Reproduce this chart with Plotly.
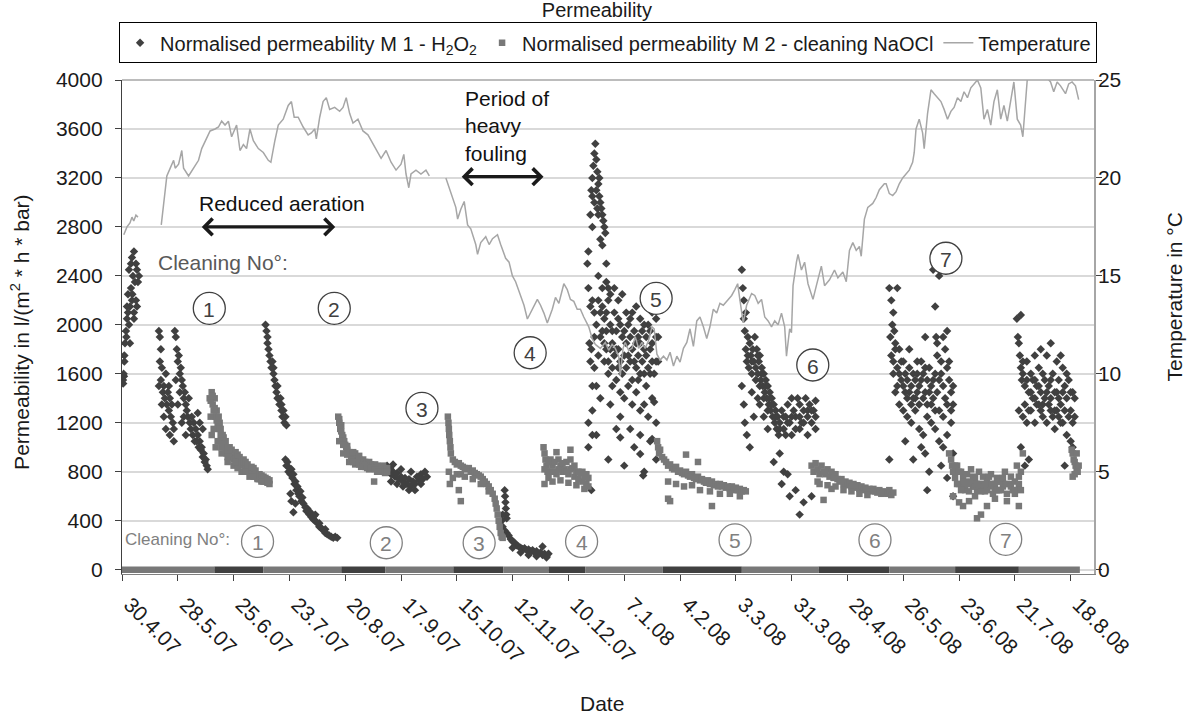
import pandas as pd
import plotly.graph_objects as go

# ---------------- DATA ----------------
START_DATE = "2007-04-30"          # day 0 of the record

tick_days = [0, 28, 56, 84, 112, 140, 168, 196, 224, 252, 280, 308, 336, 364, 392, 420, 448, 476]
tick_labels = ["30.4.07", "28.5.07", "25.6.07", "23.7.07", "20.8.07", "17.9.07", "15.10.07",
               "12.11.07", "10.12.07", "7.1.08", "4.2.08", "3.3.08", "31.3.08", "28.4.08",
               "26.5.08", "23.6.08", "21.7.08", "18.8.08"]

# Normalised permeability M1 (H2O2) : (day, l/(m2*h*bar))
m1_cycle_a = [(0.5,1550),(0.8,1600),(1.2,1750),(1.5,1850),(2,1950),(2.5,2050),(2.2,1900),(3,2100),(3.5,2000),
              (3,2250),(4,2150),(4.5,2300),(5,2200),(5.5,2400),(6,2100),(6.5,2350),(5,2550),(6,2600),(7,2500),
              (7.5,2450),(8,2350),(4.5,2500),(7,2200),(8.5,2400),(3.5,2450),(6,2050),(7.5,2150),(2.5,2150),
              (1.2,1700),(4,1850),(5.2,2250),(0.6,1520),(1,1580)]
m1_cycle_b = [(18.5,1950),(19,1900),(19.5,1800),(19,1700),(20,1650),(18.5,1500),(19.5,1550),(20.5,1450),(21,1500),
              (21.5,1400),(22,1600),(22.5,1350),(23,1450),(23.5,1300),(24,1400),(24.5,1250),(25,1350),(25.5,1200),
              (21,1250),(22,1150),(26,1150),(23.5,1500),(26.5,1950),(27,1900),(27.5,1800),(28,1700),(28.5,1750),
              (29,1600),(29.5,1650),(30,1550),(30.5,1500),(31,1400),(31.5,1450),(32,1350),(32.5,1300),(33,1250),
              (33.5,1400),(34,1200),(34.5,1150),(35,1250),(35.5,1100),(36,1200),(36.5,1050),(29,1450),(31,1250),
              (32,1100),(28,1350),(30,1200),(27,1550),(37,1150),(37.5,1050),(38,1100),(38.5,1000),(39,1050),
              (39.5,980),(40,1000),(40.5,920),(41,950),(41.5,880),(42,900),(42.5,850),(43,820),(39,1200),(38,1280),
              (40.5,1150),(20,1350),(24,1100),(26,1050)]
m1_cycle_c = [(72,2000),(72.5,1950),(73,1900),(73.5,1800),(74,1750),(74.5,1700),(75,1650),(75.5,1700),(76,1600),
              (76.5,1550),(77,1500),(77.5,1450),(78,1500),(78.5,1400),(79,1350),(79.5,1400),(80,1300),(80.5,1250),
              (81,1300),(81.5,1200),(82,1250),(82.5,1180),(73,1850),(76,1650),(78,1400),(80,1350),
              (82,900),(82.5,850),(83,880),(83.5,800),(84,830),(84.5,780),(85,820),(85.5,750),(86,780),(86.5,700),
              (87,720),(87.5,650),(88,680),(88.5,620),(89,600),(89.5,640),(90,560),(90.5,590),(91,540),(92,510),
              (92.5,480),(93,500),(94,450),(94.5,470),(95,430),(96,410),(96.5,440),(97,400),(98,380),(99,350),
              (100,340),(101,320),(102,300),(103,290),(104,280),(105,270),(106,260),(107,270),(108,260),
              (84.5,620),(85,560),(86,470),(87,540),(97,450),(99,380),(102,330)]
m1_cycle_d = [(133,850),(134,800),(134.5,830),(135,780),(136,800),(137,760),(138,790),(139,740),(140,760),
              (141,720),(142,750),(143,700),(144,740),(145,680),(146,720),(147,700),(148,760),(149,730),(150,780),
              (151,740),(152,800),(153,760),(135,720),(138,700),(141,680),(144,650),(147,650),(150,700),(136,860),
              (140,820),(145,800)]
m1_cycle_e = [(192,650),(192.2,600),(192.4,550),(192.6,500),(192.8,450),(193,420),(191,350),(192,320),(193,300),
              (194,280),(195,250),(196,230),(197,220),(198,200),(199,190),(200,180),(201,170),(202,175),(203,160),
              (204,165),(205,150),(206,160),(207,140),(208,150),(209,130),(210,140),(211,120),(212,130),(213,110),
              (214,130),(211,190),(196,180),(200,140),(204,120),(208,110),(213,100),(190.5,400),(191,450)]
m1_cycle_f = [(233.5,2500),(234,2600),(235,2900),(235.5,3100),(236,3200),(236.5,3300),(237,3400),(237.5,3480),
              (238,3350),(238.5,3250),(239,3150),(239.5,3050),(240,3000),(240.5,2950),(241,2900),(241.5,2850),
              (242,2800),(242.5,2750),(236,2800),(237,3000),(238,3100),(239,2900),(240,2700),(241,2650),(243,2500),
              (244,2300),(236,3050),(238.5,2950),(239.5,3200),
              (234,2300),(235,2150),(234.5,1850),(235,1700),(236,2200),(237,2100),(238,2000),(239,2200),(240,1900),
              (241,2150),(242,2050),(243,1950),(244,2200),(245,2000),(246,1850),(247,2100),(248,1950),(249,1800),
              (250,2000),(251,1900),(252,1750),(253,1850),(254,2000),(255,1700),(256,1800),(257,1950),(258,1650),
              (259,1750),(260,1850),(261,1700),(262,1600),(263,1900),(264,2000),(265,1800),(266,2100),(267,2200),
              (268,1900),(269,1700),(242,1700),(244,1600),(246,1500),(248,1550),(250,1450),(252,1400),(254,1500),
              (256,1350),(258,1450),(260,1300),(262,1350),(264,1250),(266,1400),(268,1200),(238,1500),(240,1400),
              (245,1350),(250,1250),(255,1150),(260,1100),(265,1050),(268,900),(234,1200),(234,1000),(238,1100),
              (248,1150),(257,1000),(262,800),(252,850),(244,900),(236,1300),(235.5,1800),(237,1900),(243,2350),
              (245,2250),(247,2300),(249,2200),(251,2250),(256,2100),(258,2150),(260,2050),(262,2000),(266,1850),
              (268,1700),(236,1100),(235.5,650),(250,1080),(260,945),(261.5,770),(266,1067),(267,1370),
              (241,1950),(243,1800),(246,1950),(249,1650),(253,1650),(255,1900),(259,1550),(263,1500),(265,1600),
              (239,2400),(241,2300),(243,2100),(245,1800),(247,1750),(249,2050),(251,1600),(253,2100),(255,2050),
              (257,1700),(259,1900),(261,1950),(263,1750),(265,1950),(267,1600),(269,1900),(240,2100),(242,1850),
              (244,1700),(246,1650),(248,1800),(250,1700),(252,1950),(254,1750),(256,1550),(258,1850),(260,1600),
              (262,1800),(264,1650),(266,1700),(268,2050),(239,1750),(237,1650),(236,1500)]
m1_cycle_g = [(311,2450),(311.5,2300),(312,2200),(312,2050),(312.5,1950),(313,2100),(313,1800),(313.5,1700),
              (314,1900),(314.5,1650),(315,1850),(315.5,1750),(316,1600),(316.5,1800),(317,1700),(317.5,1900),
              (318,1650),(318.5,1800),(319,1600),(319.5,1700),(320,1750),(320.5,1550),(321,1650),(321.5,1500),
              (322,1600),(322.5,1450),(323,1550),(323.5,1400),(324,1500),(324.5,1350),(325,1450),(325.5,1300),
              (326,1400),(326.5,1250),(327,1350),(327.5,1200),(328,1300),(328.5,1150),(329,1250),(329.5,1100),
              (330,1200),(331,1300),(332,1150),(333,1250),(334,1350),(335,1200),(336,1400),(337,1300),(338,1250),
              (339,1400),(340,1350),(341,1200),(342,1300),(343,1400),(344,1250),(345,1350),(346,1200),(347,1300),
              (348,1150),(333,1100),(336,1100),(340,1150),(344,1100),(348,1380),(312,1350),(312.5,1200),
              (313.5,1100),(315,1000),(317,1250),(320,1350),(322,1250),(324,1150),(330,950),(327,880),(331,700),
              (332,800),(334,780),(335,600),(338,650),(340,450),(342,550),(346,600),(311,1500),(316,1450),
              (319,1400),(318,1550),(320,1500),(322,1400),(324,1300),(326,1350),(328,1250),(330,1150),(332,1250),
              (334,1200),(336,1250),(338,1150),(340,1250),(342,1200),(344,1300),(346,1300),(348,1250),(314,1750),
              (316,1700),(319,1750),(321,1600),(323,1500),(325,1400)]
m1_cycle_h = [(385,2300),(389,2300),(386,2200),(387,2100),(386.5,2000),(387.5,1950),(388,1850),(385.5,1900),
              (386,1750),(387,1700),(388,1800),(389,1650),(390,1600),(391,1700),(392,1500),(393,1600),(394,1550),
              (395,1450),(396,1500),(397,1400),(398,1550),(399,1600),(400,1500),(401,1700),(402,1600),(403,1450),
              (404,1550),(405,1650),(406,1500),(407,1400),(408,1600),(409,1750),(410,1550),(411,1700),(412,1500),
              (413,1800),(414,1650),(415,1550),(416,1450),(417,1350),(407,2450),(410,2400),(408,2150),(408.5,1900),
              (409,1850),(388,1450),(390,1350),(392,1300),(394,1250),(396,1200),(398,1300),(400,1150),(402,1100),
              (404,1250),(406,1200),(408,1150),(410,1050),(412,1000),(414,1100),(416,1200),(417,950),(405,800),
              (403,950),(404,650),(411,850),(414,750),(417,600),(393,1050),(397,900),(401,1000),(385,900),
              (399,1700),(395,1800),(403,1900),(412,1900),(414,1950),(387,1600),(389,1500),(391,1550),(393,1450),
              (395,1650),(397,1600),(399,1450),(401,1550),(403,1650),(405,1450),(407,1550),(409,1450),(411,1600),
              (413,1400),(415,1700),(417,1500),(390,1800),(392,1700),(394,1400),(396,1350),(398,1400),(400,1350),
              (402,1400),(404,1350),(406,1350),(408,1300),(410,1300),(412,1250),(414,1350),(416,1300)]
m1_cycle_i = [(449,2050),(451,2080),(449.5,1900),(450,1850),(450.5,1750),(451,1650),(451.5,1550),(452,1600),
              (453,1500),(454,1700),(455,1450),(456,1600),(457,1550),(458,1400),(459,1500),(460,1650),(461,1450),
              (462,1350),(463,1550),(464,1750),(465,1500),(466,1400),(467,1600),(468,1300),(469,1450),(470,1550),
              (471,1350),(472,1650),(473,1500),(474,1400),(475,1550),(476,1300),(477,1450),(478,1250),(450,1300),
              (452,1250),(454,1200),(456,1300),(458,1200),(460,1350),(462,1250),(464,1200),(466,1300),(468,1150),
              (470,1250),(472,1200),(474,1100),(476,1050),(451,1000),(453,850),(455,900),(458,1750),(461,1800),
              (466,1850),(469,1700),(471,1750),(477,1000),(473,850),(452,1700),(454,1550),(456,1450),(458,1550),
              (460,1500),(462,1600),(464,1450),(466,1550),(468,1450),(470,1400),(472,1450),(474,1600),(476,1450),
              (478,1400),(453,1350),(455,1300),(457,1400),(459,1350),(461,1300),(463,1400),(465,1350),(467,1250),
              (469,1300),(471,1200),(473,1300),(475,1250),(477,1200)]

# Normalised permeability M2 (cleaning NaOCl) : (day, l/(m2*h*bar))
m2_cycle_1 = [(44,1400),(45,1450),(45.5,1350),(46,1300),(46.5,1400),(47,1250),(47.5,1300),(48,1200),(48.5,1150),
              (49,1200),(49.5,1100),(50,1050),(50.5,1100),(51,1000),(52,1000),(52.5,950),(53,980),(54,950),(55,920),
              (56,900),(57,930),(58,880),(59,870),(60,850),(61,880),(62,830),(63,820),(64,800),(65,790),(66,780),
              (67,760),(68,750),(69,740),(70,730),(71,720),(72,720),(73,710),(74,700),(44.5,1250),(46,1150),
              (48,1050),(50,950),(53,880),(56,850),(60,800),(64,760),(68,740),(45,1100),(47,1000),
              (44.5,1380),(45.5,1420),(46.5,1320),(47.5,1220),(48.5,1250),(49.5,1150),(51,1080),(52,1050),(54,1000),
              (55,980),(57,960),(58,940),(59,920),(61,900),(62,880),(63,860),(65,840),(66,830),(67,810),(69,780),
              (70,770),(71,760),(72,750),(73,740),(74,730),(58,830),(62,800),(66,760),(70,720),(53,920),(57,880),
              (50,1000)]
m2_cycle_2 = [(108.5,1250),(109,1200),(109.5,1150),(110,1180),(110.5,1100),(111,1080),(111.5,1050),(112,1020),
              (112.5,1000),(113,980),(114,960),(115,940),(116,930),(117,950),(118,920),(119,900),(120,890),(121,900),
              (122,880),(123,870),(124,880),(125,860),(126,850),(127,860),(128,850),(129,840),(130,830),(131,850),
              (132,820),(133,830),(109,1050),(111,950),(114,880),(117,860),(120,840),(124,820),(128,800),(126.5,720),
              (109,1230),(110,1130),(111,1020),(113,940),(115,900),(116,880),(118,880),(119,860),(121,860),(122,840),
              (123,830),(125,830),(127,820),(129,800),(130,800),(132,790),(133,800),(113,1010),(116,960),(119,930)]
m2_cycle_3 = [(163.5,1250),(163.8,1200),(164,1150),(164.2,1100),(164.5,1050),(164.8,1000),(165,950),(164,800),
              (164.5,700),(166,900),(167,880),(168,860),(169,870),(170,850),(171,840),(172,830),(173,820),(174,830),
              (175,800),(176,810),(177,790),(178,780),(179,770),(180,760),(181,740),(182,720),(183,700),(184,680),
              (185,650),(186,620),(187,580),(187.5,540),(188,500),(188.5,450),(189,400),(189.5,350),(190,300),
              (190.5,270),(191,260),(166,750),(169,650),(168,780),(172,760),(176,740),(180,700),(184,640),(170,780),
              (170,560)]
m2_cycle_4 = [(211.5,1000),(212,950),(212.5,900),(213,850),(213.5,800),(214,750),(215,900),(216,850),(217,800),
              (218,780),(219,900),(220,850),(221,800),(222,820),(223,880),(224,780),(225,900),(226,830),(227,760),
              (228,800),(229,740),(230,790),(231,720),(232,760),(233,700),(234,750),(212,700),(216,720),(220,730),
              (224,710),(228,690),(232,660),(218,960),(225,980),(212,820),(214,880),(215,800),(217,880),(219,820),
              (221,870),(223,800),(225,820),(227,850),(229,800),(231,800),(233,780),(234,680)]
m2_cycle_5 = [(268.5,1050),(269,1000),(269.5,950),(270,980),(271,920),(272,900),(273,880),(274,850),(275,860),
              (276,830),(277,820),(278,840),(279,800),(280,810),(281,790),(282,780),(283,800),(284,770),(285,760),
              (286,780),(287,750),(288,740),(289,760),(290,730),(291,740),(292,720),(293,710),(294,730),(295,700),
              (296,720),(297,690),(298,700),(299,680),(300,700),(301,680),(302,690),(303,670),(304,680),(305,660),
              (306,680),(307,650),(308,670),(309,650),(310,660),(311,640),(312,650),(313,640),(274,720),(278,700),
              (282,680),(286,690),(290,650),(295,640),(300,620),(305,620),(310,600),(274,580),(275,560),(296,520),
              (283,940),(289,880)]
m2_cycle_6 = [(346,850),(347,800),(348,870),(349,820),(350,780),(351,850),(352,800),(353,780),(354,820),(355,760),
              (356,800),(357,750),(358,780),(359,740),(360,720),(361,740),(362,700),(363,720),(364,690),(365,710),
              (366,680),(367,700),(368,670),(369,690),(370,660),(371,680),(372,650),(373,670),(374,650),(375,660),
              (376,640),(377,660),(378,640),(379,630),(380,650),(381,620),(382,640),(383,630),(384,620),(385,650),
              (386,610),(387,630),(350,700),(354,690),(358,680),(362,650),(366,640),(370,620),(374,610),(352,570),
              (349,720),(356,660)]
m2_cycle_7 = [(415,950),(416,900),(416.5,850),(417,800),(418,750),(419,850),(420,700),(421,800),(422,750),(423,650),
              (424,780),(425,700),(426,820),(427,680),(428,750),(429,650),(430,800),(431,700),(432,760),(433,640),
              (434,720),(435,680),(436,780),(437,620),(438,700),(439,750),(440,650),(441,720),(442,680),(443,800),
              (444,620),(445,700),(446,760),(447,650),(448,720),(449,850),(450,700),(451,800),(452,950),(417,600),
              (420,550),(422,520),(425,560),(428,600),(431,450),(434,520),(438,580),(444,560),(448,620),(450,520),
              (429,420),(418,850),(420,800),(422,700),(424,700),(426,720),(428,680),(430,700),(432,680),(434,650),
              (436,700),(438,650),(440,720),(442,750),(444,700),(446,680),(448,650),(450,760),(451,650),(419,700),
              (421,650),(423,720),(425,640),(427,760),(429,700),(431,640),(433,700),(435,760),(437,700),(439,650),
              (441,650)]
m2_cycle_8 = [(476.5,980),(477,950),(477.5,900),(478,880),(478.5,850),(479,820),(479.5,800),(480,850),(478,780),
              (477,760),(479,950)]

# Periods where the permeability of each membrane is recorded as zero : (start day, end day)
m1_zero_periods = [(46.3,70.9),(110,132.1),(166.2,191.3),(213.9,232.4),(271.4,311),(349.4,385),(418,450)]
m2_zero_periods = [(0,46.3),(70.9,110),(132.1,166.2),(191.3,213.9),(232.4,271.4),(311,349.4),(385,418),(450,480.6)]

# Temperature (day, deg C); three logged segments
temp_seg1 = [(0.9,17.1),(2.5,17.5),(4,17.7),(5,18.0),(5.9,17.8),(7,18.1),(8,18.0)]
temp_seg2 = [(19.7,17.6),(21.7,19.2),(22.5,20.1),(24.2,20.5),(25.9,20.9),(26.7,20.5),(28.4,20.7),(30,21.4),
             (30.9,20.5),(33.4,20.1),(35.9,20.5),(38.4,20.9),(40,21.5),(42.5,22.0),(44.2,22.4),(46.7,22.5),
             (48.4,22.6),(50,22.9),(51.7,22.7),(53.4,22.9),(55,22.1),(57.5,22.7),(59.2,21.4),(60.9,21.7),
             (62.5,21.5),(64.2,22.5),(65.9,21.9),(68.4,21.5),(70.9,21.3),(73.4,20.9),(74.7,20.8),(76.7,21.9),
             (78.4,22.7),(80.9,23.0),(83.4,23.7),(85,23.9),(86.4,23.1),(88.4,23.1),(90.9,22.6),(93.4,22.2),
             (95,22.3),(96.7,22.5),(97.5,22.0),(99.2,23.1),(100.9,23.9),(102.5,24.1),(104.2,23.5),(106.7,23.6),
             (109.2,23.4),(110.9,23.6),(112.5,24.1),(114.2,23.3),(115.9,22.8),(118.4,23.0),(120.9,22.4),
             (123.4,22.2),(125,21.9),(127.5,21.4),(130,21.0),(132.5,21.4),(135,20.8),(137.5,20.4),(140,20.7),
             (141.4,21.2),(142.5,20.2),(143.9,19.5),(145,20.2),(147.5,20.4),(150,20.2),(152.5,20.4),(154.2,20.1)]
temp_seg3 = [(162.5,20.0),(165,19.2),(167.5,18.5),(168.4,17.9),(170,18.4),(171.7,18.8),(173.4,17.6),(175,17.4),
             (177.5,16.6),(178.4,16.1),(180,16.7),(182.5,17.0),(184.2,16.6),(185.9,16.9),(188.4,17.1),(190,16.6),
             (192.5,15.9),(194.2,15.7),(195.9,15.0),(197.5,14.7),(200,14.0),(201.7,13.5),(203.4,12.8),(205.9,13.3),
             (208.4,13.8),(210,13.5),(211.7,13.1),(213.4,12.6),(215.9,13.3),(217.5,13.9),(219.2,13.6),(221.7,14.6),
             (223.4,14.3),(225,13.8),(226.7,13.7),(228.4,13.3),(230,13.3),(231.7,12.9),(234.2,12.4),(235.9,11.8),
             (237.5,11.5),(240,11.3),(242.5,11.6),(244.2,11.2),(245.9,11.5),(247.5,11.3),(249.2,10.9),(250,9.9),
             (251.4,11.3),(252.5,11.6),(254.2,11.2),(255.9,11.3),(257.5,11.9),(259.2,11.3),(260.9,11.6),
             (262.5,11.3),(264.2,11.7),(265.9,12.4),(267,12.3),(268.4,11.0),(270,10.7),(271.7,10.9),(273.4,10.7),
             (275,11.1),(276.7,10.4),(278.4,10.9),(280,10.6),(281.7,11.3),(283.4,11.6),(285,12.3),(286.7,11.4),
             (288.4,12.7),(290,12.9),(291.7,12.4),(293.4,11.8),(295,12.4),(296.7,13.3),(298.4,13.1),(300,13.6),
             (301.7,13.5),(303.4,13.7),(305.9,14.0),(307.5,14.3),(308.9,14.6),(310,13.8),(311.7,12.6),(313.4,13.5),
             (315.9,14.1),(317.5,14.0),(319.2,13.6),(320.9,13.8),(322.5,12.9),(324.2,12.7),(325.9,12.4),
             (327.5,12.7),(329.2,12.5),(330.9,13.1),(332.5,12.4),(333.4,10.9),(335,12.3),(335.9,12.1),(336.7,14.5),
             (338.4,15.7),(339.2,16.1),(340.9,15.3),(342.5,15.7),(344.2,14.6),(346.7,13.8),(348.4,14.5),
             (350.9,15.5),(352.5,14.5),(355,14.8),(357.5,15.3),(359.2,14.9),(361.7,15.2),(363.4,14.7),(365,16.3),
             (366.7,16.7),(368.4,16.3),(370,16.5),(370.9,16.0),(372.5,17.9),(374.2,18.5),(376.7,18.7),(378.4,19.0),
             (380,19.4),(382.5,19.7),(383.4,19.7),(385,19.2),(386.7,19.1),(388.4,19.3),(390,19.7),(391.7,20.0),
             (393.4,20.2),(395,20.4),(396.7,20.8),(397.5,21.3),(398.4,22.5),(400,23.0),(401.7,22.3),(402.5,21.5),
             (404.2,23.3),(405.9,24.5),(407.5,24.3),(409.2,24.1),(410.9,23.9),(412.5,23.5),(414.2,23.0),
             (415.9,23.4),(417.5,23.6),(419.2,24.1),(420.9,23.9),(422.5,24.4),(424.2,24.1),(425.9,24.6),
             (427.5,24.8),(429.2,25.0),(430.9,24.6),(432.5,23.0),(434.2,23.5),(435.9,22.7),(437.5,23.9),
             (439.2,24.5),(440.9,23.0),(442.5,23.7),(444.2,22.9),(445.9,24.0),(447.5,24.9),(449.2,23.0),
             (450.9,22.7),(452,22.1),(453.4,24.0),(454.2,25.0),(455.9,25.3),(458.4,25.3),(460.9,25.1),(463.4,25.2),
             (465.9,24.9),(467.5,24.4),(469.2,24.9),(470.9,24.7),(473.4,24.3),(475,24.8),(476.7,24.9),(478.4,24.7),
             (480,24.0)]

# ---------------- HELPERS ----------------
start = pd.Timestamp(START_DATE)


def day_to_date(d):
    return None if d is None else start + pd.Timedelta(days=float(d))


def unzip(points):
    return [day_to_date(p[0]) for p in points], [p[1] for p in points]


def periods_xy(periods):
    xs, ys = [], []
    for a, b in periods:
        xs += [day_to_date(a), day_to_date(b), None]
        ys += [0, 0, None]
    return xs, ys


def segments_xy(*segs):
    xs, ys = [], []
    for s in segs:
        px, py = unzip(s)
        xs += px + [None]
        ys += py + [None]
    return xs, ys


FONT = "Liberation Sans, Arial, sans-serif"
DARK = "#404040"
MID = "#787878"
TEMP_C = "#a6a6a6"
TXT = "#1a1a1a"

m1_x, m1_y = unzip(m1_cycle_a + m1_cycle_b + m1_cycle_c + m1_cycle_d + m1_cycle_e +
                   m1_cycle_f + m1_cycle_g + m1_cycle_h + m1_cycle_i)
m2_x, m2_y = unzip(m2_cycle_1 + m2_cycle_2 + m2_cycle_3 + m2_cycle_4 + m2_cycle_5 +
                   m2_cycle_6 + m2_cycle_7 + m2_cycle_8)
t_x, t_y = segments_xy(temp_seg1, temp_seg2, temp_seg3)
z1_x, z1_y = periods_xy(m1_zero_periods)
z2_x, z2_y = periods_xy(m2_zero_periods)

fig = go.Figure()
fig.add_trace(go.Scatter(x=z1_x, y=z1_y, mode="lines", line=dict(color=DARK, width=6.5),
                         showlegend=False, hoverinfo="skip"))
fig.add_trace(go.Scatter(x=z2_x, y=z2_y, mode="lines", line=dict(color=MID, width=6.5),
                         showlegend=False, hoverinfo="skip"))
fig.add_trace(go.Scatter(x=m1_x, y=m1_y, mode="markers",
                         name="Normalised permeability M 1 - H<sub>2</sub>O<sub>2</sub>",
                         marker=dict(symbol="diamond", size=6.5, color=DARK)))
fig.add_trace(go.Scatter(x=m2_x, y=m2_y, mode="markers",
                         name="Normalised permeability M 2 - cleaning NaOCl",
                         marker=dict(symbol="square", size=6.5, color=MID)))
fig.add_trace(go.Scatter(x=t_x, y=t_y, mode="lines", name="Temperature", yaxis="y2",
                         line=dict(color=TEMP_C, width=1.5), connectgaps=False))

# ---------------- LAYOUT ----------------
Y_MIN = -35.1
fig.update_layout(
    width=1189, height=725,
    margin=dict(l=121.7, r=95, t=80, b=151),
    paper_bgcolor="white", plot_bgcolor="white",
    font=dict(family=FONT, size=21, color=TXT),
    title=dict(text="Permeability", x=0.502, xanchor="center", y=0.986, yanchor="middle",
               font=dict(size=20, color=TXT)),
    legend=dict(orientation="h", x=-0.003, xanchor="left", y=1.117, yanchor="top",
                bordercolor="#000000", borderwidth=1, bgcolor="white",
                font=dict(size=20, color=TXT), itemwidth=30, tracegroupgap=0),
    xaxis=dict(type="date",
               range=[day_to_date(0), day_to_date(487.7)],
               tickmode="array", tickvals=[day_to_date(d) for d in tick_days], ticktext=tick_labels,
               tickangle=45, ticks="outside", ticklen=6, tickcolor=DARK, tickwidth=1.3,
               ticklabelshift=8, ticklabelstandoff=3,
               showline=True, linecolor="#808080", linewidth=1.3,
               showgrid=False, zeroline=False, tickfont=dict(size=21, color=TXT)),
    yaxis=dict(range=[Y_MIN, 4000], tickmode="array", tickvals=list(range(0, 4001, 400)),
               ticks="outside", ticklen=6, tickcolor=DARK, tickwidth=1.3,
               showline=True, linecolor=DARK, linewidth=1.3, ticklabelstandoff=8,
               showgrid=True, gridcolor="#d9d9d9", gridwidth=1.5, zeroline=False,
               tickfont=dict(size=21, color=TXT)),
    yaxis2=dict(range=[Y_MIN / 160, 25], overlaying="y", side="right",
                tickmode="array", tickvals=[0, 5, 10, 15, 20, 25],
                ticks="outside", ticklen=6, tickcolor=DARK, tickwidth=1.3, ticklabelstandoff=-8,
                showline=True, linecolor="#a6a6a6", linewidth=1.5,
                showgrid=False, zeroline=False, tickfont=dict(size=21, color=TXT)),
)

ann = []
# axis titles
ann.append(dict(text="Permeability in l/(m<sup>2</sup> * h * bar)", xref="paper", yref="paper",
                x=-0.105, y=0.49, textangle=-90, showarrow=False, xanchor="center", yanchor="middle",
                font=dict(size=21, color=TXT)))
ann.append(dict(text="Temperature in °C", xref="paper", yref="paper", x=1.083, y=0.561,
                textangle=-90, showarrow=False, xanchor="center", yanchor="middle",
                font=dict(size=21, color=TXT)))
ann.append(dict(text="Date", xref="paper", yref="paper", x=0.494, y=-0.262, showarrow=False,
                xanchor="center", yanchor="middle", font=dict(size=21, color=TXT)))

# text labels
ann.append(dict(text="Reduced aeration", x=day_to_date(80.3), y=2995, xref="x", yref="y",
                showarrow=False, font=dict(size=21, color="#111111")))
ann.append(dict(text="Period of<br>heavy<br>fouling", x=day_to_date(171), y=3960, xref="x", yref="y",
                showarrow=False, align="left", xanchor="left", yanchor="top",
                font=dict(size=21, color="#111111")))
ann.append(dict(text="Cleaning No°:", x=day_to_date(50.6), y=2513, xref="x", yref="y",
                showarrow=False, font=dict(size=21, color="#595959")))
ann.append(dict(text="Cleaning No°:", x=day_to_date(27.7), y=243, xref="x", yref="y",
                showarrow=False, font=dict(size=17, color="#808080")))

# double arrows
for (d0, d1, yv) in [(39.3, 107, 2800), (169.7, 211.5, 3210)]:
    px_len = (d1 - d0) * 1.9937
    ann.append(dict(text="", x=day_to_date(d1), y=yv, xref="x", yref="y", ax=-px_len, ay=0,
                    showarrow=True, arrowhead=4, startarrowhead=4, arrowside="end+start",
                    arrowwidth=3.2, arrowsize=1, startarrowsize=1, arrowcolor="#1a1a1a",
                    standoff=0, startstandoff=0))

# circled cleaning numbers
upper = [(1, 43.8, 2135), (2, 106.5, 2135), (3, 150.5, 1318), (4, 204.8, 1772),
         (5, 268, 2217), (6, 346.6, 1672), (7, 413.4, 2544)]
lower = [(1, 68, 231), (2, 132.6, 220), (3, 179.2, 220), (4, 230.6, 231),
         (5, 307.6, 243), (6, 377.8, 243), (7, 443.4, 248)]
shapes = []
for nums, col, lw in [(upper, "#404040", 1.3), (lower, "#808080", 1.3)]:
    for n, d, yv in nums:
        shapes.append(dict(type="circle", xref="x", yref="y", xsizemode="pixel", ysizemode="pixel",
                           xanchor=day_to_date(d), yanchor=yv, x0=-16, x1=16, y0=-16, y1=16,
                           line=dict(color=col, width=lw), fillcolor="white", layer="above"))
        ann.append(dict(text=str(n), x=day_to_date(d), y=yv, xref="x", yref="y", showarrow=False,
                        font=dict(size=21, color=col), yshift=-1))

# top border of plot area
shapes.append(dict(type="line", xref="paper", yref="paper", x0=0, x1=1, y0=1, y1=1,
                   line=dict(color="#a6a6a6", width=1.5)))

fig.update_layout(annotations=ann, shapes=shapes)
fig.write_html("out.html", config={"displayModeBar": False},
               post_script="document.body.style.margin='0';document.body.style.padding='0';")
